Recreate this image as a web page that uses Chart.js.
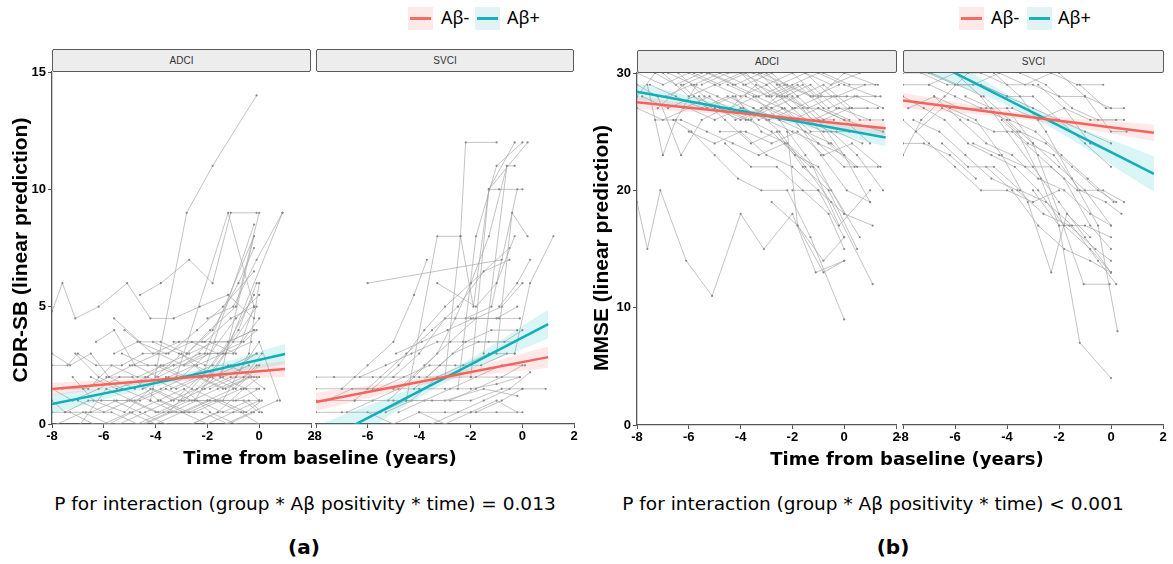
<!DOCTYPE html>
<html>
<head>
<meta charset="utf-8">
<script src="https://cdn.jsdelivr.net/npm/chart.js@4.4.1/dist/chart.umd.min.js"></script>
<style>
  body { margin: 0; width: 1173px; height: 564px; background: #fff; position: relative; overflow: hidden; }
  canvas { position: absolute; }
  .strip { position: absolute; height: 23px; box-sizing: border-box; background: #ededed; border: 1px solid #5a5a5a;
           border-radius: 2px; font: 10px 'Liberation Sans', Arial, sans-serif; color: #333; text-align: center; line-height: 21px; }
  .txt { position: absolute; white-space: nowrap; color: #000; }
  .xtitle { font: bold 18px 'DejaVu Sans', sans-serif; width: 400px; text-align: center; }
  .ytitle { font: bold 21px 'Liberation Sans', Arial, sans-serif; width: 320px; height: 24px; line-height: 24px; text-align: center; transform: rotate(-90deg); }
  .cap { font: 18.5px 'DejaVu Sans', sans-serif; width: 560px; text-align: center; }
  .tag { font: bold 20px 'DejaVu Sans', sans-serif; width: 60px; text-align: center; }
  .key { position: absolute; width: 25px; height: 23px; }
  .key i { position: absolute; left: 2px; right: 2px; top: 10px; height: 3px; }
  .lab { font: 18px 'Noto Sans', sans-serif; line-height: 23px; }
</style>
</head>
<body>

<!-- legends -->
<div class="key" style="left:408px;top:7px;background:#fce9e8"><i style="background:#f26d66"></i></div>
<div class="txt lab" style="left:441px;top:6px">Aβ-</div>
<div class="key" style="left:475px;top:7px;background:#e1f3f4"><i style="background:#1bb0ba"></i></div>
<div class="txt lab" style="left:507px;top:6px">Aβ+</div>

<div class="key" style="left:959px;top:7px;background:#fce9e8"><i style="background:#f26d66"></i></div>
<div class="txt lab" style="left:991px;top:6px">Aβ-</div>
<div class="key" style="left:1027px;top:7px;background:#e1f3f4"><i style="background:#1bb0ba"></i></div>
<div class="txt lab" style="left:1058px;top:6px">Aβ+</div>

<!-- facet strips -->
<div class="strip" style="left:52px;top:49px;width:259px">ADCI</div>
<div class="strip" style="left:316px;top:49px;width:258px">SVCI</div>
<div class="strip" style="left:637px;top:50px;width:260px">ADCI</div>
<div class="strip" style="left:903px;top:50px;width:261px">SVCI</div>

<canvas id="aAdci" width="321" height="386" style="left:0px;top:62px"></canvas>
<canvas id="aSvci" width="278" height="386" style="left:306px;top:62px"></canvas>
<canvas id="bAdci" width="321" height="386" style="left:585px;top:63px"></canvas>
<canvas id="bSvci" width="280" height="386" style="left:893px;top:63px"></canvas>

<!-- axis titles and captions -->
<div class="txt ytitle" style="left:-140px;top:238px">CDR-SB (linear prediction)</div>
<div class="txt ytitle" style="left:441px;top:236px">MMSE (linear prediction)</div>
<div class="txt xtitle" style="left:120px;top:447px">Time from baseline (years)</div>
<div class="txt xtitle" style="left:707px;top:448px">Time from baseline (years)</div>
<div class="txt cap" style="left:25px;top:493px">P for interaction (group * Aβ positivity * time) = 0.013</div>
<div class="txt cap" style="left:593px;top:493px">P for interaction (group * Aβ positivity * time) &lt; 0.001</div>
<div class="txt tag" style="left:274px;top:535px">(a)</div>
<div class="txt tag" style="left:863px;top:535px">(b)</div>

<script>
// ---- individual trajectories, [time, score] pairs ----
var trajCdrAdci = [
  [[-4.2,1],[-2.8,9],[-1.8,11],[-0.1,14]],
  [[-8,4.8],[-7.6,6],[-7.1,4.5],[-6.2,5],[-5.1,6],[-4.2,4.5],[-3.3,4.5],[-2.3,5],[-1.2,5.5],[-0.2,4.5]],
  [[-4.6,5.5],[-3.8,6],[-2.7,7],[-1.8,6],[-1.1,9],[-0.1,9]],
  [[-5.6,4.5],[-4.6,3.5],[-3.8,3.5],[-2.8,3],[-1.9,4],[-0.9,5],[0,9]],
  [[-3.2,2],[-1.2,9],[-0.2,5]],
  [[-6.3,3.5],[-5.6,4],[-4.8,2.5],[-3.9,2],[-2.1,3],[-0.2,8]],
  [[-3.5,0.5],[-2.2,2],[-0.2,8.5]],
  [[-2.5,1],[-1.3,3],[0.9,9]],
  [[-8,2.5],[-7.4,2.5],[-7,3],[-6.3,2.5],[-5.3,2.5],[-4.5,3],[-3.5,3],[-2.4,4],[-1.4,5],[-0.2,6.5]],
  [[-8,1.5],[-7.2,1],[-6.2,1.5],[-5.4,2],[-4.4,2],[-3.3,2.5],[-2.4,2.5],[-1.4,3],[-0.2,5.5]],
  [[-7.5,0.5],[-6.5,0.5],[-5.5,1],[-4.6,1],[-3.6,1.5],[-2.6,1],[-1.6,1.5],[-0.6,2],[0.1,3]],
  [[-7,1],[-6,0.5],[-5,1],[-4,0.5],[-3,0.5],[-2,1],[-1,1.5],[-0.1,2.5]],
  [[-6.5,2],[-5.5,1.5],[-4.3,2],[-3.2,1.5],[-2.2,2],[-1.2,3.5],[-0.2,4]],
  [[-6,0],[-5,0.5],[-4,0],[-3,0.5],[-2,0],[-1,0.5],[0,1]],
  [[-5.6,3],[-4.7,3.5],[-3.6,3],[-2.6,3.5],[-1.6,3],[-0.6,3.5],[-0.1,4]],
  [[-5.2,4],[-4.1,3],[-3.1,3.5],[-2.1,3.5],[-1.1,4.5],[-0.2,5]],
  [[-4.8,1],[-3.8,1.5],[-2.8,2],[-1.8,2.5],[-0.8,4],[-0.1,6]],
  [[-7.8,0],[-6.8,0.5],[-5.8,0],[-4.9,0.5],[-3.9,1],[-2.9,0.5],[-1.9,1],[-0.9,1],[0,1.5]],
  [[-6.8,1.5],[-5.8,2],[-4.8,1.5],[-3.8,2.5],[-2.8,2],[-1.8,2],[-0.8,2.5],[-0.1,3]],
  [[-5,2.5],[-4,2.5],[-3,2],[-2,3],[-1,3],[0,4.5]],
  [[-4.4,0],[-3.4,0.5],[-2.4,1],[-1.4,0.5],[-0.4,1],[0.1,0.5]],
  [[-3.8,1],[-2.7,0.5],[-1.7,1],[-0.7,0.5],[0,0]],
  [[-6.1,1],[-5.1,1],[-4.1,1.5],[-3.1,1],[-2.1,1.5],[-1.1,2],[-0.1,2]],
  [[-2.9,2.5],[-1.9,3],[-0.9,4.5],[0,5.5]],
  [[-1.9,1.5],[-0.9,2],[0,3.5],[0.8,1]],
  [[-3.3,3.5],[-2.2,3.5],[-1.2,3.5],[-0.2,4]],
  [[-7.1,3],[-6.2,2],[-5.3,1.5],[-4.2,1],[-3.2,0.5],[-2.2,0.5],[-1.2,0],[-0.2,0.5]],
  [[-8,1],[-7.5,0.5],[-6.6,1],[-5.6,1],[-4.6,0.5],[-3.6,0],[-2.6,0],[-1.6,0.5],[-0.6,0.5]],
  [[-2.6,0],[-1.6,0.5],[-0.6,1.5],[0,2]],
  [[-1.4,1],[-0.4,3],[0,6]],
  [[-2.2,1.5],[-1.2,2.5],[-0.2,2]],
  [[-5.9,2],[-4.9,2],[-3.9,1],[-2.9,1.5],[-1.9,0.5],[-0.9,0],[-0.1,0]],
  [[-4.5,1.5],[-3.5,2],[-2.5,2.5],[-1.5,2],[-0.5,1.5],[0,1]],
  [[-3,1],[-2,1],[-1,1],[0,1]],
  [[-6.7,0.5],[-5.7,0.5],[-4.7,0],[-3.7,0.5],[-2.7,1],[-1.7,1],[-0.7,1.5],[-0.1,1.5]],
  [[-8,0.5],[-7.3,0.5],[-6.4,0],[-5.4,0],[-4.4,0.5],[-3.4,1],[-2.4,1.5],[-1.4,2],[-0.4,2.5]],
  [[-5.3,3],[-4.3,2.5],[-3.3,2.5],[-2.3,3],[-1.3,3],[-0.3,3.5]],
  [[-2,4.5],[-1,5],[-0.1,7],[0.9,9]],
  [[-1.3,0],[-0.3,0.5],[0.7,1]],
  [[-7.6,1.5],[-6.6,1.5],[-5.7,2.5],[-4.7,2],[-3.7,2.5],[-2.7,3],[-1.7,3.5],[-0.7,3.5],[-0.2,5]],
  [[-4.1,3.5],[-3.1,3],[-2.1,2.5],[-1.1,2.5],[-0.1,3]],
  [[-3.6,2],[-2.6,1.5],[-1.6,1],[-0.6,1],[0,0.5]],
  [[-1.5,2],[-0.2,8]],
  [[-7.2,2],[-6.4,1],[-5.2,0.5],[-4.2,1.5],[-3.3,1],[-2.3,2],[-1.3,1.5],[-0.3,2]],
  [[-6.9,0],[-5.9,1.5],[-4.9,1],[-3.9,0.5],[-2.9,1],[-1.9,2],[-0.9,1.5],[0,2.5]],
  [[-5.5,0],[-4.5,0],[-3.5,0.5],[-2.5,0.5],[-1.5,1],[-0.5,0.5],[0.1,1]],
  [[-4,2],[-3,3],[-2,2],[-1,3.5],[-0.1,5]],
  [[-3.4,1.5],[-2.4,2],[-1.4,1.5],[-0.4,2],[0.2,1.5]],
  [[-2.8,3],[-1.8,4],[-0.8,6],[-0.2,7.5]],
  [[-8,3],[-7.3,2.5],[-6.5,3],[-5.8,2],[-4.9,2.5],[-3.9,3],[-2.9,2.5],[-1.9,3.5],[-0.9,3]]
];

var trajCdrSvci = [
  [[-4.5,1],[-3.3,8],[-2.4,8],[-2.2,12],[-1,12]],
  [[-3,2],[-2.4,8],[-1.9,5],[-1.3,10],[-0.3,12]],
  [[-2.5,1.5],[-1.8,8],[-1,11],[0,12]],
  [[-2,2],[-1.3,10],[0.2,12]],
  [[-1.5,3],[-0.6,11],[-0.3,11]],
  [[-6,6],[-0.8,7]],
  [[-3.3,6],[-1.8,5],[-1,6],[-0.3,8]],
  [[-1,3],[-0.4,9],[0.2,8]],
  [[-0.3,3],[0.3,6],[1.2,8]],
  [[-8,2],[-7.3,2],[-6.5,2],[-5.8,2],[-5,2],[-4,2],[-3,2],[-2,2],[-1,2],[-0.1,2]],
  [[-8,1.5],[-7,1.5],[-6,1.5],[-5,1.5],[-4,1.5],[-3,1.5],[-2,1.5],[-1,1.7],[-0.1,2]],
  [[-8,1],[-6.5,1],[-5,1],[-3.5,1],[-2,1],[-0.8,1.5],[0,1.5]],
  [[-8,0.5],[-7,0.5],[-5.5,0.5],[-4.5,1],[-3,1],[-1.5,1.5],[-0.2,1.2]],
  [[-7,1.5],[-6,2.5],[-5,3.5],[-4.2,5.5],[-3.7,7]],
  [[-6.5,1],[-5.5,2],[-4.5,3],[-3.5,4],[-2.5,5],[-1.5,6.5],[-0.5,7]],
  [[-5.8,1.5],[-4.8,2.5],[-3.8,4],[-3,5],[-2,6],[-0.5,7.5]],
  [[-6.8,0.5],[-5.8,1],[-4.8,1.5],[-3.8,2.5],[-2.8,3.5],[-1.8,4.5],[-0.8,5],[0,6]],
  [[-5,2],[-4,3],[-3,4.5],[-2,4.5],[-1,4.5],[-0.2,5]],
  [[-4.2,1.5],[-3.2,2.5],[-2.2,3.5],[-1.2,4],[-0.2,4]],
  [[-3.7,2],[-2.7,3],[-1.7,3.5],[-0.7,3.5],[0,4]],
  [[-5.3,0.5],[-4.3,1],[-3.3,2],[-2.3,2.5],[-1.3,3],[-0.3,3]],
  [[-6.3,2],[-5.3,2.5],[-4.3,3],[-3.3,3.5],[-2.3,3.5],[-1.3,3.5],[-0.3,3.5]],
  [[-4.8,0.5],[-3.8,1],[-2.8,1.5],[-1.8,2],[-0.8,2.5],[0.1,2.5]],
  [[-3.5,0],[-2.5,0.5],[-1.5,1],[-0.5,1.5],[0.3,2.2]],
  [[-7.6,1],[-6.6,1.5],[-5.6,1.5],[-4.6,2],[-3.6,2.5],[-2.6,2.5],[-1.6,2.5],[-0.6,3]],
  [[-2.8,1],[-1.8,1.5],[-0.8,2],[0,2.5]],
  [[-1.8,0.5],[-0.8,1],[0,1.5],[0.9,1.5]],
  [[-4,0.5],[-3,0.5],[-2,0.5],[-1,0.5],[0,0.5]],
  [[-6,0.5],[-5,0],[-4,0.5],[-3,0],[-2,0.5],[-1,1],[-0.2,0.5]],
  [[-2.2,4.5],[-1.2,5],[-0.2,10]],
  [[-1.3,10],[-0.9,10],[0,10]],
  [[-5.2,1],[-4.2,2],[-3.3,3],[-2.6,4.5],[-2,6],[-1.3,8],[-0.6,11]],
  [[-0.9,5],[-0.2,6],[0.3,7]],
  [[-4.9,3],[-3.9,3.5],[-2.9,4],[-1.9,4.5],[-0.9,4.5],[-0.1,4.5]]
];

var trajMmseAdci = [
  [[-8,19],[-7.6,15],[-7.1,20],[-6.1,14],[-5.1,11],[-4,18],[-3.1,15],[-2,18],[-1.1,13],[0,14]],
  [[-6.6,26],[-5.9,25],[-5,23],[-4.1,21],[-3.2,20],[-2.2,20],[-1.3,16],[0,9]],
  [[-8,29],[-7.2,28],[-6.3,23],[-5.5,26],[-4.6,27],[-3.7,26],[-2.8,25],[-1.9,23],[-1,22],[0,18]],
  [[-8,30],[-7,29],[-6,30],[-5,29],[-4,28],[-3,29],[-2,27],[-1,27],[0,26],[1,24]],
  [[-7.5,29],[-6.5,28],[-5.5,27],[-4.5,28],[-3.5,27],[-2.5,26],[-1.5,25],[-0.5,24],[0.5,22]],
  [[-6.8,30],[-5.8,29],[-4.8,30],[-3.8,29],[-2.8,30],[-1.8,28],[-0.8,29],[0.3,27]],
  [[-5.6,28],[-4.6,26],[-3.6,24],[-2.6,25],[-1.6,22],[-0.6,20],[0.5,15]],
  [[-4.5,29],[-3.5,28],[-2.5,26],[-1.5,23],[-0.5,20],[0.6,16]],
  [[-3.5,27],[-2.5,25],[-1.5,22],[-0.5,19],[1.1,12]],
  [[-2.8,19],[-1.8,17],[-0.8,14],[0,16]],
  [[-7.8,28],[-6.8,27],[-5.8,28],[-4.8,27],[-3.8,26],[-2.8,27],[-1.8,26],[-0.8,25],[0.2,25]],
  [[-7,30],[-6,28],[-5,29],[-4,30],[-3,28],[-2,29],[-1,30],[0,29],[1.2,28]],
  [[-6.2,27],[-5.2,28],[-4.2,26],[-3.2,27],[-2.2,28],[-1.2,26],[-0.2,27],[1,26]],
  [[-5.3,30],[-4.3,29],[-3.3,28],[-2.3,29],[-1.3,28],[-0.3,28],[0.8,29]],
  [[-4.8,25],[-3.8,25],[-2.8,24],[-1.8,25],[-0.8,23],[0.3,24],[1.4,22]],
  [[-4,30],[-3,29],[-2,30],[-1,28],[0,30],[1.2,29]],
  [[-3.8,28],[-2.8,27],[-1.8,28],[-0.8,26],[0.2,27],[1.3,27]],
  [[-7.3,26],[-6.3,26],[-5.3,25],[-4.3,24],[-3.3,23],[-2.3,24],[-1.3,22]],
  [[-6,25],[-5,24],[-4,25],[-3,23],[-2,22],[-1,20],[0,18],[1.1,17]],
  [[-3,30],[-2,28],[-1,26],[0,23],[1,19]],
  [[-2.6,29],[-1.6,27],[-0.6,24],[0.4,22]],
  [[-2,26],[-1,24],[0,22],[1.3,22]],
  [[-5.5,29],[-4.5,30],[-3.5,30],[-2.5,29],[-1.5,30],[-0.5,29],[0.6,30]],
  [[-8,27],[-7,26],[-6,27],[-5,26],[-4,27],[-3,26],[-2,25],[-1,24],[0,23]],
  [[-6.9,28],[-5.9,29],[-4.9,28],[-3.9,27],[-2.9,26],[-1.9,27],[-0.9,28],[0.1,28]],
  [[-4.2,28],[-3.2,25],[-2.2,24],[-1.2,22],[-0.2,17],[1,20]],
  [[-2.2,25],[-1.8,17],[-0.8,13],[0,14]],
  [[-5,27],[-4,26],[-3,27],[-2,26],[-1,27],[0,26],[1.5,25]],
  [[-7.6,29],[-7,23],[-6.5,26],[-5.7,29]],
  [[-3.3,30],[-2.3,28],[-1.3,29],[-0.3,27],[0.9,27]],
  [[-2.5,28],[-1.5,26],[-0.5,25],[0.5,23],[1.5,20]],
  [[-1.5,30],[-0.5,28],[0.5,28],[1.5,27]],
  [[-6.4,30],[-5.4,28],[-4.4,27],[-3.4,28],[-2.4,27],[-1.4,26],[-0.4,26]],
  [[-4.6,24],[-3.6,22],[-2.6,22],[-1.6,20],[-0.6,18],[0,15]],
  [[-3.9,29],[-2.9,28],[-1.9,26],[-0.9,23],[0.1,20],[1,19]],
  [[-8,28],[-7.3,30],[-6.5,29],[-5.5,30]],
  [[-2,20],[-1,20],[0,16]],
  [[-0.8,30],[0.2,29],[1.3,29]],
  [[-6.3,29],[-5.3,27],[-4.3,28],[-3.3,26],[-2.3,27],[-1.3,25],[-0.3,25],[0.7,24]],
  [[-5.8,30],[-4.8,29],[-3.8,30],[-2.8,28],[-1.8,29],[-0.8,27],[0.2,26]],
  [[-4.4,27],[-3.4,29],[-2.4,28],[-1.4,27],[-0.4,28],[0.6,26],[1.5,26]],
  [[-7.2,27],[-6.2,29],[-5.2,30],[-4.2,29],[-3.2,30],[-2.2,29],[-1.2,28],[-0.2,29]],
  [[-3.6,26],[-2.6,28],[-1.6,29],[-0.6,27],[0.4,28],[1.4,28]]
];

var trajMmseSvci = [
  [[-8,29],[-7,29],[-6,28],[-5,27],[-4,26],[-3,24],[-2,22],[-1,20],[0,17]],
  [[-8,28],[-7.2,27],[-6.4,26],[-5.5,24],[-4.6,23],[-3.7,22],[-2.8,20],[-1.8,17],[-0.8,15],[0,13]],
  [[-8,30],[-7,30],[-6,29],[-5,29],[-4,28],[-3,27],[-2,26],[-1,25],[0,24]],
  [[-7.5,25],[-6.5,27],[-5.5,26],[-4.5,25],[-3.5,25],[-2.5,24],[-1.5,22],[-0.5,20],[0.2,19]],
  [[-8,23],[-7.3,26],[-6.4,28],[-5.5,30]],
  [[-6.9,30],[-5.9,29],[-4.9,28],[-3.9,26],[-2.9,25],[-1.9,23],[-0.9,21],[0.1,19]],
  [[-6.2,27],[-5.2,26],[-4.2,23],[-3.2,19],[-2.3,13],[-1.7,18],[-0.8,16]],
  [[-5.6,28],[-4.6,27],[-3.6,25],[-2.7,21],[-2,17],[-1.2,7],[0,4]],
  [[-4.5,30],[-3.5,28],[-2.5,25],[-1.5,21],[-0.5,17],[0.25,8]],
  [[-4,27],[-3,24],[-2,18],[-1.05,12],[-0.05,12]],
  [[-7.8,27],[-6.8,28],[-5.8,27],[-4.8,27],[-3.8,27],[-2.8,26],[-1.8,27],[-0.8,26],[0.2,26]],
  [[-7,29],[-6,30],[-5,30],[-4,29],[-3,29],[-2,28],[-1,28],[0,27]],
  [[-6.5,24],[-5.5,22],[-4.5,22],[-3.5,20],[-2.5,19],[-1.5,17],[-0.5,14],[0.2,12]],
  [[-5,29],[-4,28],[-3,28],[-2,26],[-1,24],[0,22]],
  [[-4.2,26],[-3.2,24],[-2.2,23],[-1.2,20],[-0.2,19],[0.4,18]],
  [[-3.5,30],[-2.5,29],[-1.5,27],[-0.5,26],[0.5,26]],
  [[-7.6,26],[-6.6,25],[-5.6,23],[-4.6,21],[-3.6,20],[-2.6,18],[-1.6,17],[-0.6,15],[0,14]],
  [[-6,30],[-5,28],[-4,25],[-3,22],[-2,19],[-1,16],[0,13]],
  [[-8,26],[-7,24],[-6,22],[-5,20],[-4,20],[-3,19],[-2,20]],
  [[-5.3,24],[-4.3,23],[-3.3,22],[-2.3,22],[-1.3,20],[-0.3,20],[0.5,19]],
  [[-2.8,29],[-1.8,27],[-0.8,24],[0.2,23]],
  [[-2,30],[-1,28],[0,25],[0.6,25]],
  [[-1.2,29],[-0.2,27],[0.5,27]],
  [[-6.8,28],[-5.8,26],[-4.8,24],[-3.8,23],[-2.8,21],[-1.8,20],[-0.8,18],[0,17]],
  [[-7.3,30],[-6.3,29],[-5.3,29],[-4.3,30],[-3.3,29],[-2.3,30],[-1.3,29],[-0.3,29]],
  [[-3.8,25],[-2.8,23],[-1.8,21],[-0.8,17],[0,15]],
  [[-4.8,22],[-3.8,20],[-2.8,17],[-1.8,15],[-0.8,14],[0,13]],
  [[-8,24],[-7.2,24],[-6.2,23],[-5.2,21]],
  [[-3,20],[-2,17],[-1,17],[0,16]]
];

// ---- fitted lines (Aβ- / Aβ+) with 95% bands, read at three times ----
var fitXCdrAdci = [-8, -3.5, 1];
var negCdrAdci = [1.49, 1.92, 2.34], negLoCdrAdci = [1.22, 1.8, 2.0], negHiCdrAdci = [1.76, 2.04, 2.68];
var posCdrAdci = [0.85, 1.86, 2.98], posLoCdrAdci = [0.45, 1.72, 2.55], posHiCdrAdci = [1.25, 2.0, 3.41];

var fitXCdrSvci = [-8, -3, 1];
var negCdrSvci = [0.94, 2.0, 2.85], negLoCdrSvci = [0.55, 1.85, 2.4], negHiCdrSvci = [1.33, 2.15, 3.3];
var posCdrSvci = [-0.89, 1.97, 4.26], posLoCdrSvci = [-1.7, 1.75, 3.65], posHiCdrSvci = [-0.1, 2.2, 4.87];

var fitXMmseAdci = [-8, -3.2, 1.6];
var negMmseAdci = [27.5, 26.4, 25.3], negLoMmseAdci = [26.95, 26.2, 24.7], negHiMmseAdci = [28.05, 26.6, 25.9];
var posMmseAdci = [28.4, 26.44, 24.5], posLoMmseAdci = [27.7, 26.2, 23.75], posHiMmseAdci = [29.1, 26.7, 25.25];

var fitXMmseSvci = [-8, -3.2, 1.65];
var negMmseSvci = [27.65, 26.28, 24.9], negLoMmseSvci = [27.0, 26.0, 24.2], negHiMmseSvci = [28.3, 26.55, 25.6];
var posMmseSvci = [32.25, 26.85, 21.4], posLoMmseSvci = [30.7, 26.4, 19.9], posHiMmseSvci = [33.8, 27.3, 22.9];

// x ticks are the same for every facet
var xTicks = [-8, -6, -4, -2, 0, 2];

var RED = '#f0655e', TEAL = '#13aeb8';
var RED_BAND = 'rgba(248,118,109,0.16)', TEAL_BAND = 'rgba(0,191,196,0.15)';
var GREY = 'rgba(165,165,165,0.75)';

function pts(xs, ys) {
  return xs.map(function (x, i) { return { x: x, y: ys[i] }; });
}

function fitLine(xs, ys, color) {
  return { data: pts(xs, ys), borderColor: color, borderWidth: 2.5, pointRadius: 0, fill: false, tension: 0 };
}

function bandEdge(xs, ys, fillColor) {
  return { data: pts(xs, ys), borderWidth: 0, borderColor: 'transparent', pointRadius: 0, tension: 0.4,
           fill: fillColor ? '-1' : false, backgroundColor: fillColor || 'transparent' };
}

function makeFacet(id, trajs, fx, neg, negLo, negHi, pos, posLo, posHi, yMax, yStep, showY) {
  var datasets = [
    fitLine(fx, neg, RED),
    fitLine(fx, pos, TEAL),
    bandEdge(fx, negLo, null),
    bandEdge(fx, negHi, RED_BAND),
    bandEdge(fx, posLo, null),
    bandEdge(fx, posHi, TEAL_BAND)
  ];
  // grey spaghetti lines go underneath everything
  trajs.forEach(function (t) {
    datasets.push({
      data: t.map(function (p) { return { x: p[0], y: p[1] }; }),
      borderColor: GREY, borderWidth: 0.9, pointRadius: 1.1, pointBorderWidth: 0,
      pointBackgroundColor: '#888', fill: false, tension: 0
    });
  });

  var tickFont = { family: "'Liberation Sans', Arial, sans-serif", size: 13, weight: 'bold' };

  new Chart(document.getElementById(id), {
    type: 'line',
    data: { datasets: datasets },
    options: {
      responsive: false,
      animation: false,
      events: [],
      devicePixelRatio: 1,
      layout: { padding: { top: 10, right: 10, bottom: 0, left: showY ? 0 : 10 } },
      plugins: { legend: { display: false }, tooltip: { enabled: false } },
      scales: {
        x: {
          type: 'linear', min: -8, max: 2,
          afterBuildTicks: function (axis) { axis.ticks = xTicks.map(function (v) { return { value: v }; }); },
          afterFit: function (axis) { axis.height = 24; },
          border: { display: true, color: '#555', width: 1.3 },
          grid: { drawOnChartArea: false, drawTicks: true, tickLength: 4, color: '#555' },
          ticks: { color: '#000', font: tickFont, padding: 1, maxRotation: 0 }
        },
        y: {
          display: showY,
          min: 0, max: yMax,
          afterFit: function (axis) { axis.width = showY ? 52 : 0; },
          border: { display: true, color: '#555', width: 1.3 },
          grid: { drawOnChartArea: false, drawTicks: true, tickLength: 4, color: '#555' },
          ticks: { color: '#000', font: tickFont, stepSize: yStep, padding: 2 }
        }
      }
    }
  });
}

makeFacet('aAdci', trajCdrAdci, fitXCdrAdci, negCdrAdci, negLoCdrAdci, negHiCdrAdci, posCdrAdci, posLoCdrAdci, posHiCdrAdci, 15, 5, true);
makeFacet('aSvci', trajCdrSvci, fitXCdrSvci, negCdrSvci, negLoCdrSvci, negHiCdrSvci, posCdrSvci, posLoCdrSvci, posHiCdrSvci, 15, 5, false);
makeFacet('bAdci', trajMmseAdci, fitXMmseAdci, negMmseAdci, negLoMmseAdci, negHiMmseAdci, posMmseAdci, posLoMmseAdci, posHiMmseAdci, 30, 10, true);
makeFacet('bSvci', trajMmseSvci, fitXMmseSvci, negMmseSvci, negLoMmseSvci, negHiMmseSvci, posMmseSvci, posLoMmseSvci, posHiMmseSvci, 30, 10, false);
</script>
</body>
</html>
